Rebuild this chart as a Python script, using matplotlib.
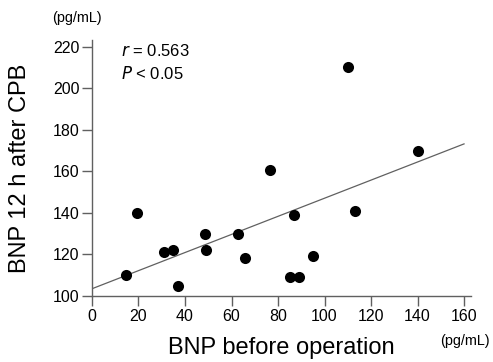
import matplotlib; matplotlib.use("Agg"); import matplotlib.pyplot as plt
plt.rcParams['font.family']=['Liberation Sans','DejaVu Sans']

# BNP before operation (pg/mL) vs BNP 12 h after CPB (pg/mL)
bnp_pre=[14.5,19.5,31,35,37,48.5,49,63,66,76.5,87,85,89,95,113,110,140]
bnp_12h=[110,140,121,122,105,130,122,130,118.5,160.5,139,109,109,119.5,141,210.5,170]
fit_intercept,fit_slope=103.5,0.436
xticks=[0,20,40,60,80,100,120,140,160]
yticks=[100,120,140,160,180,200,220]

fig=plt.figure(figsize=(4.93,3.62),dpi=100)
ax=fig.add_axes([0.1866,0.1823,0.7688,0.7072])
gray='#606060'
ax.plot([0,160],[fit_intercept,fit_intercept+fit_slope*160],'-',color=gray,lw=0.9,zorder=1)
ax.scatter(bnp_pre,bnp_12h,s=64,color='black',zorder=2,linewidths=0)
ax.set_xlim(0,163); ax.set_ylim(100,223.3)
ax.set_xticks(xticks); ax.set_yticks(yticks)
for s in ['top','right']: ax.spines[s].set_visible(False)
for s in ['left','bottom']: ax.spines[s].set_color(gray); ax.spines[s].set_linewidth(1.0)
ax.tick_params(direction='out',length=7,width=1.0,color=gray,labelsize=11.5,pad=2)
ax.set_xlabel("BNP before operation",fontsize=17,labelpad=10)
ax.set_ylabel("BNP 12 h after CPB",fontsize=17,labelpad=16)
ax.text(12.5,218,r"$r$ = 0.563",fontsize=12,va='center',ha='left')
ax.text(12.5,207,r"$P$ < 0.05",fontsize=12,va='center',ha='left')
fig.text(52/493,1-18/362,"(pg/mL)",fontsize=10.4,va='center',ha='left')
fig.text(440/493,1-341/362,"(pg/mL)",fontsize=10.4,va='center',ha='left')
fig.savefig("out.png",dpi=100)
